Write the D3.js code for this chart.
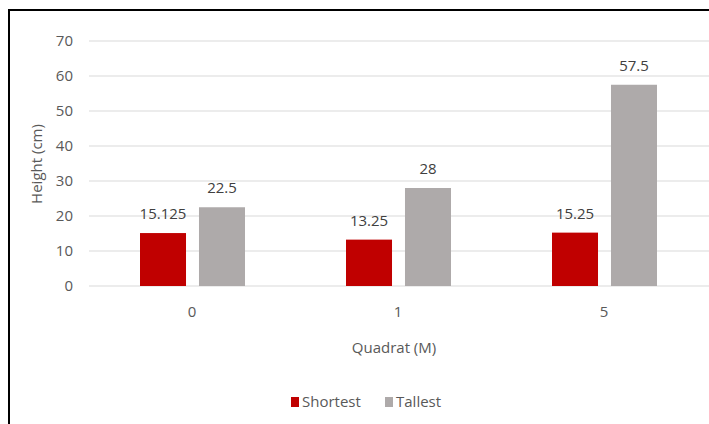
<!DOCTYPE html>
<html><head><meta charset="utf-8">
<script src="https://cdn.jsdelivr.net/npm/d3@7/dist/d3.min.js"></script>
<style>body{margin:0;background:#fff}svg{display:block;font-family:"Open Sans","Liberation Sans",sans-serif}</style>
</head><body>
<svg id="c" width="709" height="424"></svg>
<script>
const categories = ["0", "1", "5"];
const seriesNames = ["Shortest", "Tallest"];
const shortest = [15.125, 13.25, 15.25];
const tallest = [22.5, 28, 57.5];
const shortestLabels = ["15.125", "13.25", "15.25"];
const tallestLabels = ["22.5", "28", "57.5"];
const yTicks = [0, 10, 20, 30, 40, 50, 60, 70];
const colors = ["#C00000", "#AEAAAA"];

const svg = d3.select("#c");
const txt = "#595959";
const fs = 15;
// frame
svg.append("rect").attr("x", 9).attr("y", 10).attr("width", 720).attr("height", 440)
  .attr("fill", "none").attr("stroke", "#000").attr("stroke-width", 2);

const x0 = d3.scaleBand().domain(categories).range([89, 707]).paddingInner(0).paddingOuter(0);
const y = d3.scaleLinear().domain([0, 70]).range([286, 41]);
const x1 = d3.scaleBand().domain(seriesNames).range([-52, 53]).paddingInner(0.22).paddingOuter(0);

// gridlines
svg.append("g").selectAll("line").data(yTicks).join("line")
  .attr("x1", 89).attr("x2", 709).attr("y1", d => y(d)).attr("y2", d => y(d))
  .attr("stroke", "#D9D9D9").attr("stroke-width", 1);

// y axis labels
const yAxis = d3.axisLeft(y).tickValues(yTicks).tickSize(0).tickPadding(0);
const gy = svg.append("g").attr("transform", "translate(73,0)").call(yAxis);
gy.select(".domain").remove();
gy.selectAll("text").attr("fill", txt).attr("font-size", fs);

// x axis labels
const xAxis = d3.axisBottom(x0).tickSize(0).tickPadding(0);
const gx = svg.append("g").attr("transform", "translate(0,306)").call(xAxis);
gx.select(".domain").remove();
gx.selectAll("text").attr("fill", txt).attr("font-size", fs);
gy.attr("font-family", null); gx.attr("font-family", null);

const data = categories.map((c, i) => ({c, vals: [
  {s: "Shortest", v: shortest[i], l: shortestLabels[i]},
  {s: "Tallest", v: tallest[i], l: tallestLabels[i]}]}));

const g = svg.append("g").selectAll("g").data(data).join("g")
  .attr("transform", d => `translate(${x0(d.c) + x0.bandwidth() / 2},0)`);
g.selectAll("rect").data(d => d.vals).join("rect")
  .attr("x", d => x1(d.s)).attr("width", x1.bandwidth())
  .attr("y", d => y(d.v)).attr("height", d => y(0) - y(d.v))
  .attr("fill", (d, i) => colors[i]);
g.selectAll("text").data(d => d.vals).join("text")
  .attr("x", d => x1(d.s) + x1.bandwidth() / 2).attr("y", d => y(d.v) - 14)
  .attr("text-anchor", "middle").attr("fill", "#404040").attr("font-size", fs)
  .text(d => d.l);

// axis titles
svg.append("text").attr("transform", "translate(42,164) rotate(-90)")
  .attr("text-anchor", "middle").attr("fill", txt).attr("font-size", fs).text("Height  (cm)");
svg.append("text").attr("x", 394).attr("y", 353).attr("text-anchor", "middle")
  .attr("fill", txt).attr("font-size", fs).text("Quadrat (M)");

// legend
const leg = svg.append("g").attr("transform", "translate(291,407)");
const items = [{n: "Shortest", x: 0}, {n: "Tallest", x: 94}];
items.forEach((it, i) => {
  leg.append("rect").attr("x", it.x).attr("y", -10).attr("width", 8).attr("height", 10).attr("fill", colors[i]);
  leg.append("text").attr("x", it.x + 11).attr("y", 0).attr("fill", txt).attr("font-size", fs).text(it.n);
});
</script>
</body></html>
